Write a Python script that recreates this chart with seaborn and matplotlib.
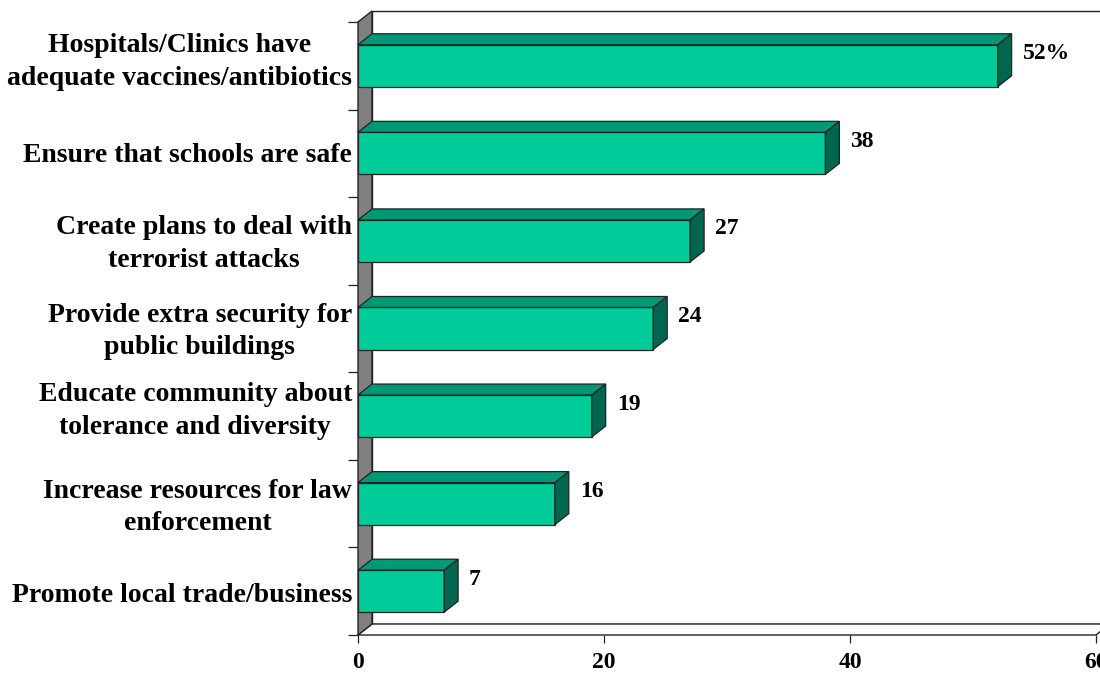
import matplotlib
matplotlib.use("Agg")
import matplotlib.pyplot as plt
from matplotlib.patches import Polygon
import seaborn as sns

categories = [
    "Hospitals/Clinics have\nadequate vaccines/antibiotics",
    "Ensure that schools are safe",
    "Create plans to deal with\nterrorist attacks",
    "Provide extra security for\npublic buildings",
    "Educate community about\ntolerance and diversity",
    "Increase resources for law\nenforcement",
    "Promote local trade/business",
]
values = [52, 38, 27, 24, 19, 16, 7]
value_labels = ["52%", "38", "27", "24", "19", "16", "7"]
x_ticks = [0, 20, 40, 60]

# small vertical nudges (pixels, upwards) for the category captions
label_nudge = [4, -2, -3, -3, 5, -4, -4]

FRONT = "#00CC99"
TOP = "#009977"
SIDE = "#006650"
WALL = "#808080"
EDGE = "#222222"

sns.set_style("white")
plt.rcParams["font.family"] = ["Liberation Serif", "DejaVu Serif"]
plt.rcParams["font.weight"] = "bold"

fig = plt.figure(figsize=(11, 6.73), dpi=100)
W, H = 1100, 673
x0, x1 = 358, 1096
y_top, y_bot = 22, 635
ax = fig.add_axes([x0 / W, (H - y_bot) / H, (x1 - x0) / W, (y_bot - y_top) / H])
ax.patch.set_visible(False)

n = len(categories)
bar_w = 0.48
XMAX = 60
# depth of the 3-D box, expressed in data units
DX = 14 / ((x1 - x0) / XMAX)
DY = 11 / ((y_bot - y_top) / n)

sns.barplot(x=values, y=categories, orient="h", width=bar_w, color=FRONT,
            saturation=1, edgecolor=EDGE, linewidth=0.9, ax=ax, zorder=4)
ax.set_xlim(0, XMAX)
ax.set_ylim(n - 0.5, -0.5)

lo, hi = n - 0.5, -0.5
lw = 1.0
# back wall
ax.add_patch(Polygon([(DX, lo - DY), (XMAX + DX, lo - DY), (XMAX + DX, hi - DY), (DX, hi - DY)],
                     closed=True, facecolor="white", edgecolor=EDGE, lw=lw, zorder=0, clip_on=False))
# floor
ax.add_patch(Polygon([(0, lo), (XMAX, lo), (XMAX + DX, lo - DY), (DX, lo - DY)],
                     closed=True, facecolor="white", edgecolor=EDGE, lw=lw, zorder=1, clip_on=False))
# left side wall
ax.add_patch(Polygon([(0, lo), (DX, lo - DY), (DX, hi - DY), (0, hi)],
                     closed=True, facecolor=WALL, edgecolor=EDGE, lw=lw, zorder=1, clip_on=False))

# top and side faces of each bar
for i, v in enumerate(values):
    yt = i - bar_w / 2
    yb = i + bar_w / 2
    ax.add_patch(Polygon([(0, yt), (v, yt), (v + DX, yt - DY), (DX, yt - DY)],
                         closed=True, facecolor=TOP, edgecolor=EDGE, lw=0.9, zorder=4, clip_on=False))
    ax.add_patch(Polygon([(v, yt), (v + DX, yt - DY), (v + DX, yb - DY), (v, yb)],
                         closed=True, facecolor=SIDE, edgecolor=EDGE, lw=0.9, zorder=4, clip_on=False))
    ax.annotate(value_labels[i], xy=(v, i), xytext=(25, 12), textcoords="offset pixels",
                ha="left", va="center", fontsize=17, fontweight="bold", color="black")

for s in ax.spines.values():
    s.set_visible(False)

# separators between categories as ticks on the left
ax.set_yticks([k - 0.5 for k in range(n + 1)])
ax.set_yticklabels([])
ax.tick_params(axis="y", which="major", direction="out", length=7.5, width=0.9,
               color=EDGE, left=True)

# category captions
for i, cat in enumerate(categories):
    ax.annotate(cat, xy=(0, i), xytext=(-6, label_nudge[i]), textcoords="offset pixels",
                ha="right", va="center", multialignment="center", linespacing=1.4,
                fontsize=20, fontweight="bold", color="black", annotation_clip=False)

ax.set_xticks(x_ticks)
ax.set_xticklabels([str(t) for t in x_ticks], fontsize=17, fontweight="bold", color="black")
ax.tick_params(axis="x", direction="out", length=6, width=0.9, color=EDGE,
               bottom=True, pad=6)
ax.set_xlabel("")
ax.set_ylabel("")

fig.savefig("out.png", dpi=100)
